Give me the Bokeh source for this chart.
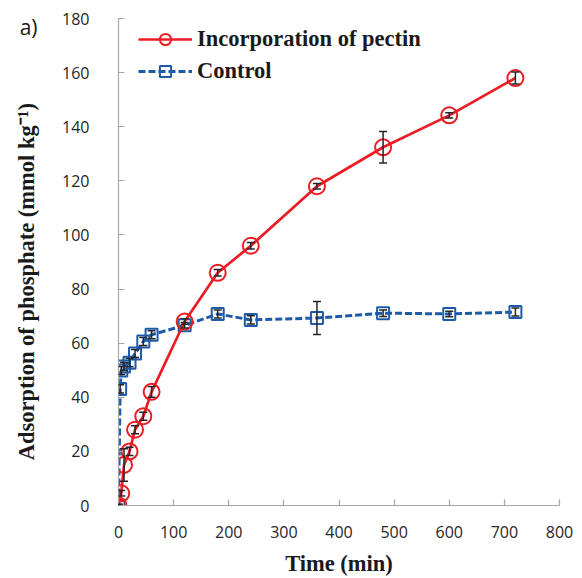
import math
from bokeh.plotting import figure
from bokeh.models import (Range1d, Legend, LegendItem, Whisker, LinearAxis,
                          ColumnDataSource, FixedTicker, TeeHead)
from bokeh.embed import file_html
from bokeh.resources import INLINE

# ---- data ----
time_pectin = [0, 5, 10, 20, 30, 45, 60, 120, 180, 240, 360, 480, 600, 720]
ads_pectin = [0, 4.5, 15, 20, 28, 33, 42, 68, 86, 96, 118, 132.4, 144.2, 158]
err_pectin = [0.5, 1.0, 6.0, 1.5, 1.5, 1.5, 2.0, 1.0, 1.2, 1.2, 1.0, 5.8, 1.0, 2.2]

time_control = [0, 3, 5, 10, 20, 30, 45, 60, 120, 180, 240, 360, 480, 600, 720]
ads_control = [0, 43.1, 49.9, 51.4, 52.8, 56.2, 60.6, 63.1, 66.6, 70.8, 68.6, 69.3, 71.1, 70.8, 71.5]
err_control = [0.5, 1.5, 1.5, 1.5, 1.5, 1.5, 1.5, 1.5, 1.0, 1.5, 1.5, 6.1, 1.2, 1.0, 1.5]

x_ticks = [0, 100, 200, 300, 400, 500, 600, 700, 800]
y_ticks = [0, 20, 40, 60, 80, 100, 120, 140, 160, 180]

series_names = ["Incorporation of pectin", "Control"]
x_title = "Time (min)"
y_title = "Adsorption of phosphate  (mmol kg\u207b\u00b9)" + "\u00a0" * 6
panel_tag = "a)"
panel_tag_at = 177  # vertical position of the panel tag, in y units

RED = "#ec1c24"
BLUE = "#1f5aa8"

p = figure(width=582, height=578, output_backend="svg", toolbar_location=None,
           x_range=Range1d(0, 800), y_range=Range1d(0, 180),
           min_border_left=118, min_border_right=23, min_border_top=18,
           min_border_bottom=72)
p.outline_line_color = None
p.xgrid.visible = False
p.ygrid.visible = False
p.background_fill_color = "white"
p.border_fill_color = "white"

for ax in (p.xaxis[0], p.yaxis[0]):
    ax.axis_line_color = "#a6a6a6"
    ax.axis_line_width = 1.2
    ax.major_tick_line_color = "#a6a6a6"
    ax.major_tick_line_width = 1.2
    ax.major_tick_in = 6
    ax.major_tick_out = 0
    ax.minor_tick_line_color = None
    ax.major_label_text_font = "Open Sans"
    ax.major_label_text_font_size = "16px"
    ax.major_label_text_color = "#262626"

p.xaxis[0].ticker = FixedTicker(ticks=x_ticks)
p.yaxis[0].ticker = FixedTicker(ticks=y_ticks)
p.xaxis[0].major_label_standoff = 20
p.yaxis[0].major_label_standoff = 29

for ax, t in ((p.xaxis[0], x_title), (p.yaxis[0], y_title)):
    ax.axis_label = t
    ax.axis_label_text_font = "Liberation Serif"
    ax.axis_label_text_font_style = "bold"
    ax.axis_label_text_font_size = "22.5px"
    ax.axis_label_text_color = "#1a1a1a"
p.xaxis[0].axis_label_standoff = 10
p.yaxis[0].axis_label_standoff = 20

# panel tag "a)" drawn as the single label of an extra, line-less left axis
tag_axis = LinearAxis(ticker=FixedTicker(ticks=[panel_tag_at]),
                      major_label_overrides={panel_tag_at: panel_tag},
                      axis_line_color=None, major_tick_line_color=None,
                      minor_tick_line_color=None, major_tick_in=0, major_tick_out=0,
                      major_label_standoff=-26,
                      major_label_text_font="Open Sans",
                      major_label_text_font_size="21px",
                      major_label_text_color="#1a1a1a")
p.add_layout(tag_axis, "left")

src_p = ColumnDataSource(dict(x=time_pectin, y=ads_pectin,
                              lo=[a - e for a, e in zip(ads_pectin, err_pectin)],
                              hi=[a + e for a, e in zip(ads_pectin, err_pectin)]))
src_c = ColumnDataSource(dict(x=time_control, y=ads_control,
                              lo=[a - e for a, e in zip(ads_control, err_control)],
                              hi=[a + e for a, e in zip(ads_control, err_control)]))

l_c = p.line("x", "y", source=src_c, line_color=BLUE, line_width=3, line_dash="7 3")
s_c = p.scatter("x", "y", source=src_c, marker="square", size=12,
                fill_color=None, line_color=BLUE, line_width=2)
l_p = p.line("x", "y", source=src_p, line_color=RED, line_width=2.7)
s_p = p.scatter("x", "y", source=src_p, marker="circle", size=16,
                fill_color=None, line_color=RED, line_width=2)

for src in (src_c, src_p):
    w = Whisker(base="x", upper="hi", lower="lo", source=src,
                line_color="#262626", line_width=1.5, level="annotation",
                upper_head=TeeHead(size=8, line_color="#262626", line_width=1.5),
                lower_head=TeeHead(size=8, line_color="#262626", line_width=1.5))
    p.add_layout(w)

legend = Legend(items=[LegendItem(label=series_names[0], renderers=[l_p, s_p]),
                       LegendItem(label=series_names[1], renderers=[l_c, s_c])],
                location=(20, 420), padding=0, margin=0, spacing=4,
                glyph_width=54, glyph_height=28, label_height=28,
                label_standoff=5,
                label_text_font="Liberation Serif", label_text_font_style="bold",
                label_text_font_size="22.5px", label_text_color="#1a1a1a",
                background_fill_alpha=0, border_line_color=None)
p.add_layout(legend)

open("out.html", "w").write(file_html(p, INLINE))
